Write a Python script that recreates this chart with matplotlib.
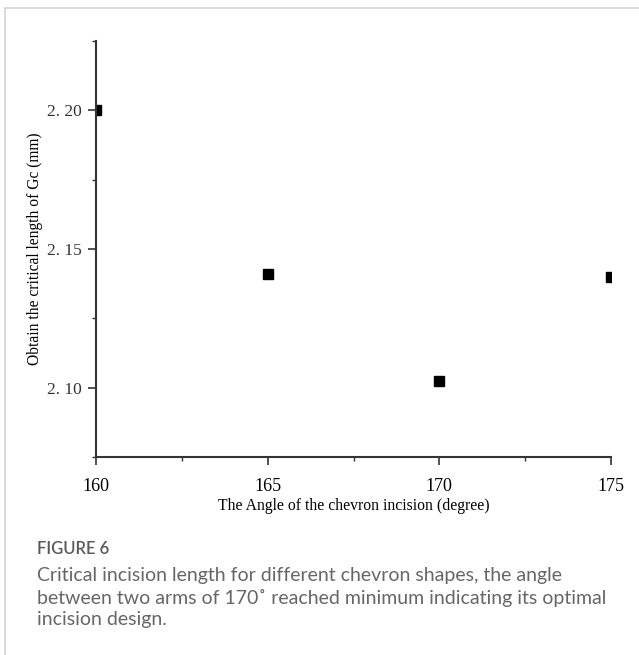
import matplotlib.pyplot as plt
from matplotlib.ticker import MultipleLocator
from matplotlib.lines import Line2D

# angle between two arms (degree) vs critical incision length (mm)
angles = [160, 165, 170, 175]
crit_length = [2.200, 2.141, 2.1025, 2.140]

x_ticks = [160, 165, 170, 175]
y_ticks = [2.10, 2.15, 2.20]
y_tick_labels = ['2. 10', '2. 15', '2. 20']

caption_title = 'FIGURE 6'
caption_lines = [
    'Critical incision length for different chevron shapes, the angle',
    'between two arms of 170\u02da reached minimum indicating its optimal',
    'incision design.',
]

serif = ['Liberation Serif', 'DejaVu Serif']
cap_font = ['Lato', 'DejaVu Sans']
axis_col = '#333333'

fig = plt.figure(figsize=(6.39, 6.55), dpi=100)

# page frame (top and left edges)
fig.add_artist(Line2D([4.5 / 639, 4.5 / 639], [0, 1 - 7.5 / 655], color='#d4d4d4', lw=1.2,
                      transform=fig.transFigure))
fig.add_artist(Line2D([4.5 / 639, 1], [1 - 7.5 / 655, 1 - 7.5 / 655], color='#d4d4d4', lw=1.2,
                      transform=fig.transFigure))

ax = fig.add_axes([96 / 639, 1 - 457 / 655, (611 - 96) / 639, (457 - 41) / 655])
ax.plot(angles, crit_length, 's', color='black', markersize=7, ls='none')

ax.set_xlim(160, 175)
ax.set_ylim(2.075, 2.225)
ax.set_xticks(x_ticks)
ax.set_xticklabels([str(v) for v in x_ticks], family=serif, fontsize=13)
ax.set_yticks(y_ticks)
ax.set_yticklabels(y_tick_labels, family=serif, fontsize=12.5, color='#333333')
ax.xaxis.set_minor_locator(MultipleLocator(2.5))
ax.yaxis.set_minor_locator(MultipleLocator(0.025))
ax.tick_params(which='major', direction='out', length=6, width=1.2, color=axis_col)
ax.tick_params(which='minor', direction='out', length=3, width=1.0, color=axis_col)
ax.tick_params(axis='x', which='major', pad=9)
ax.tick_params(axis='y', which='major', pad=4)

for s in ['top', 'right']:
    ax.spines[s].set_visible(False)
for s in ['left', 'bottom']:
    ax.spines[s].set_color(axis_col)
    ax.spines[s].set_linewidth(1.5)

ax.set_xlabel('The Angle of the chevron incision (degree)', family=serif, fontsize=11.3)
ax.set_ylabel('Obtain the critical length of Gc (mm)', family=serif, fontsize=11.2)
ax.xaxis.set_label_coords(0.5, -0.099)
ax.yaxis.set_label_coords(-0.103, 0.5)

# caption
fig.text(37 / 639, 1 - 549 / 655, caption_title, family=cap_font,
         fontsize=12, fontweight='semibold', color='#595959', va='center')
for i, line in enumerate(caption_lines):
    fig.text(37 / 639, 1 - (575 + 22.5 * i) / 655, line, family=cap_font,
             fontsize=14, color='#666666', va='center')

fig.savefig('out.png', dpi=100)
